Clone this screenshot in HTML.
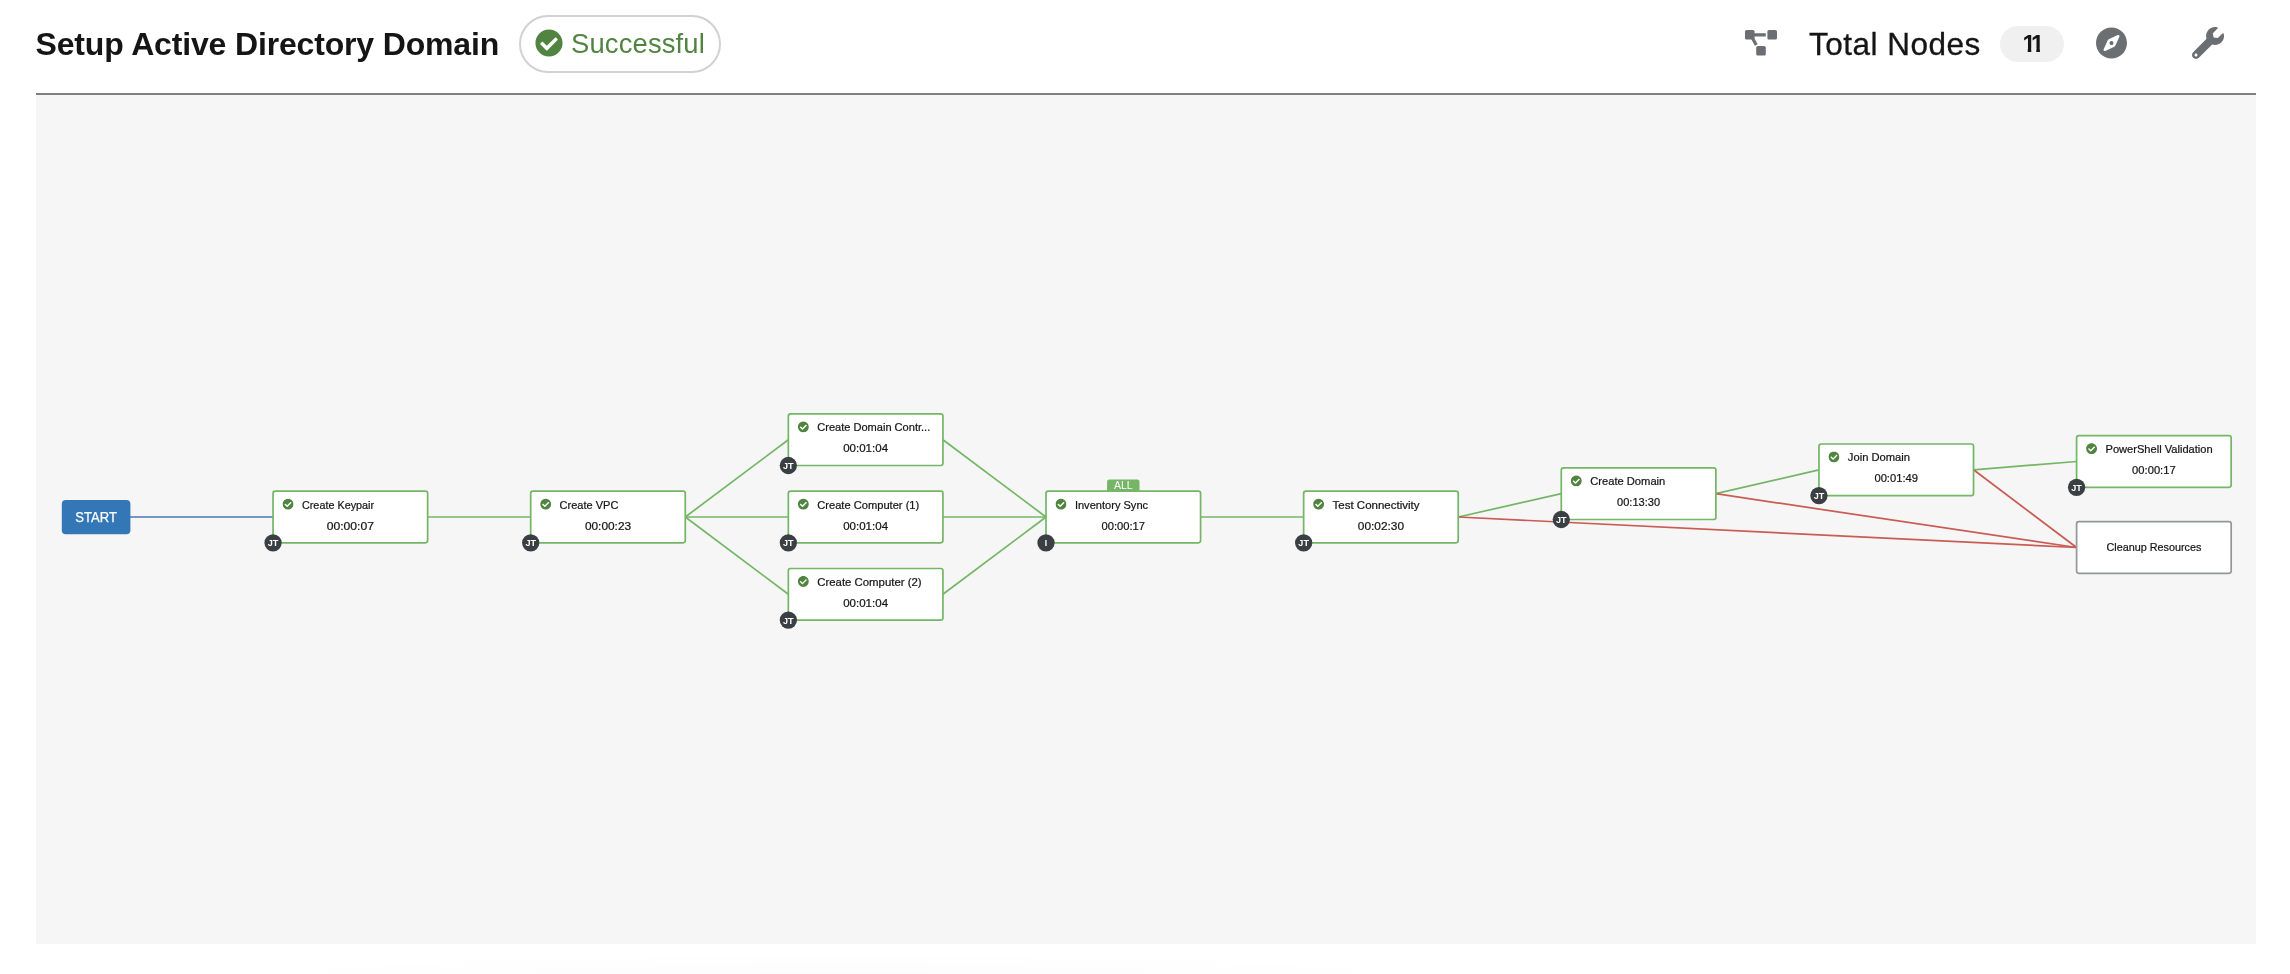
<!DOCTYPE html>
<html lang="en">
<head>
<meta charset="utf-8">
<title>Setup Active Directory Domain</title>
<style>
html,body{margin:0;padding:0;background:#fff;}
body{will-change:transform;width:2290px;height:974px;position:relative;overflow:hidden;font-family:"Liberation Sans",sans-serif;color:#151515;}
.toolbar{position:absolute;left:36px;top:0;width:2220px;height:93px;border-bottom:2px solid #808080;}
.title{position:absolute;left:-0.5px;top:20px;margin:0;font-size:32px;line-height:48px;font-weight:bold;color:#151515;white-space:nowrap;letter-spacing:-0.16px;}
.status{position:absolute;left:483px;top:15px;width:198px;height:54px;border:2px solid #d2d2d2;border-radius:29px;background:#fff;}
.status svg{position:absolute;left:14.2px;top:12px;width:28px;height:28px;}
.status span{position:absolute;left:50px;top:3px;font-size:27.4px;line-height:48px;color:#518440;white-space:nowrap;letter-spacing:0.15px;}
.tb-icon{position:absolute;fill:#6b6e72;}
.total{position:absolute;left:1773px;top:20px;-webkit-text-stroke:0.3px #151515;font-size:31.5px;line-height:48px;white-space:nowrap;color:#151515;letter-spacing:0.5px;}
.badge{position:absolute;left:1964px;top:26px;width:64px;height:36px;border-radius:18px;background:#f0f0f0;font-size:23.5px;line-height:36px;font-weight:bold;color:#151515;white-space:nowrap;}
.badge span{position:absolute;top:0;display:block;width:13.07px;height:36px;clip-path:polygon(0 0,100% 0,100% 22.5px,8.9px 22.5px,8.9px 100%,5.3px 100%,5.3px 22.5px,0 22.5px);}
.canvas{position:absolute;left:36px;top:95px;width:2220px;height:849px;background:#f6f6f6;}
.shade{position:absolute;left:180px;top:952px;width:1320px;height:22px;background:radial-gradient(ellipse at 50% 100%,rgba(0,0,0,0.012),rgba(0,0,0,0) 70%);}
.graph{position:absolute;left:0;top:0;font-family:"Liberation Sans",sans-serif;}
</style>
</head>
<body>
<div class="toolbar">
  <h1 class="title">Setup Active Directory Domain</h1>
  <div class="status"><svg viewBox="0 0 512 512"><path fill="#518440" d="M504 256c0 136.967-111.033 248-248 248S8 392.967 8 256 119.033 8 256 8s248 111.033 248 248zM227.314 387.314l184-184c6.248-6.248 6.248-16.379 0-22.627l-22.627-22.627c-6.248-6.249-16.379-6.249-22.628 0L216 308.118l-70.059-70.059c-6.248-6.248-16.379-6.248-22.628 0l-22.627 22.627c-6.248 6.248-6.248 16.379 0 22.627l104 104c6.249 6.249 16.379 6.249 22.628.001z"/></svg><span>Successful</span></div>
  <svg class="tb-icon" style="left:1709px;top:30px;width:32px;height:25.6px" viewBox="0 0 640 512"><path d="M384 320H256c-17.67 0-32 14.33-32 32v128c0 17.67 14.33 32 32 32h128c17.67 0 32-14.33 32-32V352c0-17.67-14.33-32-32-32zM192 32c0-17.67-14.33-32-32-32H32C14.33 0 0 14.33 0 32v128c0 17.67 14.33 32 32 32h95.72l73.16 128.04C211.98 300.98 232.4 288 256 288h.28L192 175.51V128h224V64H192V32zM608 0H480c-17.67 0-32 14.33-32 32v128c0 17.67 14.33 32 32 32h128c17.67 0 32-14.33 32-32V32c0-17.67-14.33-32-32-32z"/></svg>
  <div class="total">Total Nodes</div>
  <div class="badge"><span style="left:22.4px">1</span><span style="left:31px">1</span></div>
  <svg class="tb-icon" style="left:2060px;top:27px;width:31px;height:32px" viewBox="0 0 496 512"><path d="M225.38 233.37c-12.5 12.5-12.5 32.76 0 45.25 12.49 12.5 32.76 12.5 45.25 0 12.5-12.5 12.5-32.76 0-45.25-12.5-12.49-32.76-12.49-45.25 0zM248 8C111.03 8 0 119.03 0 256s111.03 248 248 248 248-111.03 248-248S384.97 8 248 8zm126.14 148.05L308.17 300.4a31.938 31.938 0 0 1-15.77 15.77l-144.34 65.97c-16.65 7.61-33.81-9.55-26.2-26.2l65.98-144.35a31.938 31.938 0 0 1 15.77-15.77l144.34-65.97c16.65-7.6 33.8 9.55 26.19 26.2z"/></svg>
  <svg class="tb-icon" style="left:2156px;top:27px;width:32px;height:32px" viewBox="0 0 512 512"><path d="M507.73 109.1c-2.24-9.03-13.54-12.09-20.12-5.51l-74.36 74.36-67.88-11.31-11.31-67.88 74.36-74.36c6.62-6.62 3.43-17.9-5.66-20.16-47.38-11.74-99.55.91-136.58 37.93-39.64 39.64-50.55 97.1-34.05 147.2L18.74 402.76c-24.99 24.99-24.99 65.51 0 90.5 24.99 24.99 65.51 24.99 90.5 0l213.21-213.21c50.12 16.71 107.47 5.68 147.37-34.22 37.07-37.07 49.7-89.32 37.91-136.73zM64 472c-13.25 0-24-10.75-24-24 0-13.26 10.75-24 24-24s24 10.74 24 24c0 13.25-10.75 24-24 24z"/></svg>
</div>
<div class="canvas">
<svg class="graph" width="2220" height="849" viewBox="36 95 2220 849">
<g class="links" fill="none" stroke-width="1.718">
<line x1="124.5" y1="517" x2="273.05" y2="517" stroke="#4678b2"/>
<line x1="427.63" y1="517.00" x2="530.70" y2="517.00" stroke="#74b666"/>
<line x1="685.28" y1="517.00" x2="788.35" y2="439.70" stroke="#74b666"/>
<line x1="685.28" y1="517.00" x2="788.35" y2="517.00" stroke="#74b666"/>
<line x1="685.28" y1="517.00" x2="788.35" y2="594.30" stroke="#74b666"/>
<line x1="942.93" y1="439.70" x2="1046.00" y2="517.00" stroke="#74b666"/>
<line x1="942.93" y1="517.00" x2="1046.00" y2="517.00" stroke="#74b666"/>
<line x1="942.93" y1="594.30" x2="1046.00" y2="517.00" stroke="#74b666"/>
<line x1="1200.58" y1="517.00" x2="1303.65" y2="517.00" stroke="#74b666"/>
<line x1="1458.23" y1="517.00" x2="1561.30" y2="493.70" stroke="#74b666"/>
<line x1="1458.23" y1="517.00" x2="2076.60" y2="547.50" stroke="#c95c54"/>
<line x1="1715.88" y1="493.70" x2="1818.95" y2="469.80" stroke="#74b666"/>
<line x1="1715.88" y1="493.70" x2="2076.60" y2="547.50" stroke="#c95c54"/>
<line x1="1973.53" y1="469.80" x2="2076.60" y2="461.50" stroke="#74b666"/>
<line x1="1973.53" y1="469.80" x2="2076.60" y2="547.50" stroke="#c95c54"/>
</g>
<g class="start"><rect x="61.8" y="499.9" width="68.6" height="34.4" rx="4" fill="#3477b7"/><text x="96.1" y="522" text-anchor="middle" font-size="14" fill="#fff" stroke="#fff" stroke-width="0.25" textLength="41.5" lengthAdjust="spacingAndGlyphs">START</text></g>
<g class="node" transform="translate(273.05,491.20)"><rect x="0" y="0" width="154.58" height="51.60" rx="2.20" fill="#fff" stroke="#74b666" stroke-width="1.718"/><svg x="9.4" y="7.4" width="11.2" height="11.2" viewBox="0 0 512 512"><path fill="#518440" d="M504 256c0 136.967-111.033 248-248 248S8 392.967 8 256 119.033 8 256 8s248 111.033 248 248zM227.314 387.314l184-184c6.248-6.248 6.248-16.379 0-22.627l-22.627-22.627c-6.248-6.249-16.379-6.249-22.628 0L216 308.118l-70.059-70.059c-6.248-6.248-16.379-6.248-22.628 0l-22.627 22.627c-6.248 6.248-6.248 16.379 0 22.627l104 104c6.249 6.249 16.379 6.249 22.628.001z"/></svg><text x="28.9" y="17.80" font-size="11.16" fill="#151515" stroke="#151515" stroke-width="0.22" textLength="72.2" lengthAdjust="spacingAndGlyphs">Create Keypair</text><text x="77.29" y="38.80" text-anchor="middle" font-size="11.16" fill="#151515" stroke="#151515" stroke-width="0.22" textLength="47.4" lengthAdjust="spacingAndGlyphs">00:00:07</text><circle cx="0" cy="51.60" r="8.65" fill="#3a3f43"/><text x="0" y="55.00" text-anchor="middle" font-size="8.5" font-weight="bold" fill="#fff" textLength="10.6" lengthAdjust="spacingAndGlyphs">JT</text></g>
<g class="node" transform="translate(530.70,491.20)"><rect x="0" y="0" width="154.58" height="51.60" rx="2.20" fill="#fff" stroke="#74b666" stroke-width="1.718"/><svg x="9.4" y="7.4" width="11.2" height="11.2" viewBox="0 0 512 512"><path fill="#518440" d="M504 256c0 136.967-111.033 248-248 248S8 392.967 8 256 119.033 8 256 8s248 111.033 248 248zM227.314 387.314l184-184c6.248-6.248 6.248-16.379 0-22.627l-22.627-22.627c-6.248-6.249-16.379-6.249-22.628 0L216 308.118l-70.059-70.059c-6.248-6.248-16.379-6.248-22.628 0l-22.627 22.627c-6.248 6.248-6.248 16.379 0 22.627l104 104c6.249 6.249 16.379 6.249 22.628.001z"/></svg><text x="28.9" y="17.80" font-size="11.16" fill="#151515" stroke="#151515" stroke-width="0.22" textLength="58.8" lengthAdjust="spacingAndGlyphs">Create VPC</text><text x="77.29" y="38.80" text-anchor="middle" font-size="11.16" fill="#151515" stroke="#151515" stroke-width="0.22" textLength="46.2" lengthAdjust="spacingAndGlyphs">00:00:23</text><circle cx="0" cy="51.60" r="8.65" fill="#3a3f43"/><text x="0" y="55.00" text-anchor="middle" font-size="8.5" font-weight="bold" fill="#fff" textLength="10.6" lengthAdjust="spacingAndGlyphs">JT</text></g>
<g class="node" transform="translate(788.35,413.90)"><rect x="0" y="0" width="154.58" height="51.60" rx="2.20" fill="#fff" stroke="#74b666" stroke-width="1.718"/><svg x="9.4" y="7.4" width="11.2" height="11.2" viewBox="0 0 512 512"><path fill="#518440" d="M504 256c0 136.967-111.033 248-248 248S8 392.967 8 256 119.033 8 256 8s248 111.033 248 248zM227.314 387.314l184-184c6.248-6.248 6.248-16.379 0-22.627l-22.627-22.627c-6.248-6.249-16.379-6.249-22.628 0L216 308.118l-70.059-70.059c-6.248-6.248-16.379-6.248-22.628 0l-22.627 22.627c-6.248 6.248-6.248 16.379 0 22.627l104 104c6.249 6.249 16.379 6.249 22.628.001z"/></svg><text x="28.9" y="17.10" font-size="11.16" fill="#151515" stroke="#151515" stroke-width="0.22" textLength="113.0" lengthAdjust="spacingAndGlyphs">Create Domain Contr...</text><text x="77.29" y="38.10" text-anchor="middle" font-size="11.16" fill="#151515" stroke="#151515" stroke-width="0.22" textLength="44.9" lengthAdjust="spacingAndGlyphs">00:01:04</text><circle cx="0" cy="51.60" r="8.65" fill="#3a3f43"/><text x="0" y="55.00" text-anchor="middle" font-size="8.5" font-weight="bold" fill="#fff" textLength="10.6" lengthAdjust="spacingAndGlyphs">JT</text></g>
<g class="node" transform="translate(788.35,491.20)"><rect x="0" y="0" width="154.58" height="51.60" rx="2.20" fill="#fff" stroke="#74b666" stroke-width="1.718"/><svg x="9.4" y="7.4" width="11.2" height="11.2" viewBox="0 0 512 512"><path fill="#518440" d="M504 256c0 136.967-111.033 248-248 248S8 392.967 8 256 119.033 8 256 8s248 111.033 248 248zM227.314 387.314l184-184c6.248-6.248 6.248-16.379 0-22.627l-22.627-22.627c-6.248-6.249-16.379-6.249-22.628 0L216 308.118l-70.059-70.059c-6.248-6.248-16.379-6.248-22.628 0l-22.627 22.627c-6.248 6.248-6.248 16.379 0 22.627l104 104c6.249 6.249 16.379 6.249 22.628.001z"/></svg><text x="28.9" y="17.80" font-size="11.16" fill="#151515" stroke="#151515" stroke-width="0.22" textLength="102.0" lengthAdjust="spacingAndGlyphs">Create Computer (1)</text><text x="77.29" y="38.80" text-anchor="middle" font-size="11.16" fill="#151515" stroke="#151515" stroke-width="0.22" textLength="44.9" lengthAdjust="spacingAndGlyphs">00:01:04</text><circle cx="0" cy="51.60" r="8.65" fill="#3a3f43"/><text x="0" y="55.00" text-anchor="middle" font-size="8.5" font-weight="bold" fill="#fff" textLength="10.6" lengthAdjust="spacingAndGlyphs">JT</text></g>
<g class="node" transform="translate(788.35,568.50)"><rect x="0" y="0" width="154.58" height="51.60" rx="2.20" fill="#fff" stroke="#74b666" stroke-width="1.718"/><svg x="9.4" y="7.4" width="11.2" height="11.2" viewBox="0 0 512 512"><path fill="#518440" d="M504 256c0 136.967-111.033 248-248 248S8 392.967 8 256 119.033 8 256 8s248 111.033 248 248zM227.314 387.314l184-184c6.248-6.248 6.248-16.379 0-22.627l-22.627-22.627c-6.248-6.249-16.379-6.249-22.628 0L216 308.118l-70.059-70.059c-6.248-6.248-16.379-6.248-22.628 0l-22.627 22.627c-6.248 6.248-6.248 16.379 0 22.627l104 104c6.249 6.249 16.379 6.249 22.628.001z"/></svg><text x="28.9" y="17.50" font-size="11.16" fill="#151515" stroke="#151515" stroke-width="0.22" textLength="104.4" lengthAdjust="spacingAndGlyphs">Create Computer (2)</text><text x="77.29" y="38.50" text-anchor="middle" font-size="11.16" fill="#151515" stroke="#151515" stroke-width="0.22" textLength="44.9" lengthAdjust="spacingAndGlyphs">00:01:04</text><circle cx="0" cy="51.60" r="8.65" fill="#3a3f43"/><text x="0" y="55.00" text-anchor="middle" font-size="8.5" font-weight="bold" fill="#fff" textLength="10.6" lengthAdjust="spacingAndGlyphs">JT</text></g>
<g class="node" transform="translate(1046.00,491.20)"><path d="M61.09 0.5V-9.4a2.4 2.4 0 0 1 2.4-2.4h27.60a2.4 2.4 0 0 1 2.4 2.4V0.5z" fill="#74b666"/><text x="77.29" y="-2" text-anchor="middle" font-size="10.3" fill="#fff" textLength="18.7" lengthAdjust="spacingAndGlyphs">ALL</text><rect x="0" y="0" width="154.58" height="51.60" rx="2.20" fill="#fff" stroke="#74b666" stroke-width="1.718"/><svg x="9.4" y="7.4" width="11.2" height="11.2" viewBox="0 0 512 512"><path fill="#518440" d="M504 256c0 136.967-111.033 248-248 248S8 392.967 8 256 119.033 8 256 8s248 111.033 248 248zM227.314 387.314l184-184c6.248-6.248 6.248-16.379 0-22.627l-22.627-22.627c-6.248-6.249-16.379-6.249-22.628 0L216 308.118l-70.059-70.059c-6.248-6.248-16.379-6.248-22.628 0l-22.627 22.627c-6.248 6.248-6.248 16.379 0 22.627l104 104c6.249 6.249 16.379 6.249 22.628.001z"/></svg><text x="28.9" y="17.80" font-size="11.16" fill="#151515" stroke="#151515" stroke-width="0.22" textLength="73.2" lengthAdjust="spacingAndGlyphs">Inventory Sync</text><text x="77.29" y="38.80" text-anchor="middle" font-size="11.16" fill="#151515" stroke="#151515" stroke-width="0.22" textLength="43.6" lengthAdjust="spacingAndGlyphs">00:00:17</text><circle cx="0" cy="51.60" r="8.65" fill="#3a3f43"/><text x="0" y="55.00" text-anchor="middle" font-size="8.5" font-weight="bold" fill="#fff">I</text></g>
<g class="node" transform="translate(1303.65,491.20)"><rect x="0" y="0" width="154.58" height="51.60" rx="2.20" fill="#fff" stroke="#74b666" stroke-width="1.718"/><svg x="9.4" y="7.4" width="11.2" height="11.2" viewBox="0 0 512 512"><path fill="#518440" d="M504 256c0 136.967-111.033 248-248 248S8 392.967 8 256 119.033 8 256 8s248 111.033 248 248zM227.314 387.314l184-184c6.248-6.248 6.248-16.379 0-22.627l-22.627-22.627c-6.248-6.249-16.379-6.249-22.628 0L216 308.118l-70.059-70.059c-6.248-6.248-16.379-6.248-22.628 0l-22.627 22.627c-6.248 6.248-6.248 16.379 0 22.627l104 104c6.249 6.249 16.379 6.249 22.628.001z"/></svg><text x="28.9" y="17.80" font-size="11.16" fill="#151515" stroke="#151515" stroke-width="0.22" textLength="87.0" lengthAdjust="spacingAndGlyphs">Test Connectivity</text><text x="77.29" y="38.80" text-anchor="middle" font-size="11.16" fill="#151515" stroke="#151515" stroke-width="0.22" textLength="46.3" lengthAdjust="spacingAndGlyphs">00:02:30</text><circle cx="0" cy="51.60" r="8.65" fill="#3a3f43"/><text x="0" y="55.00" text-anchor="middle" font-size="8.5" font-weight="bold" fill="#fff" textLength="10.6" lengthAdjust="spacingAndGlyphs">JT</text></g>
<g class="node" transform="translate(1561.30,467.90)"><rect x="0" y="0" width="154.58" height="51.60" rx="2.20" fill="#fff" stroke="#74b666" stroke-width="1.718"/><svg x="9.4" y="7.4" width="11.2" height="11.2" viewBox="0 0 512 512"><path fill="#518440" d="M504 256c0 136.967-111.033 248-248 248S8 392.967 8 256 119.033 8 256 8s248 111.033 248 248zM227.314 387.314l184-184c6.248-6.248 6.248-16.379 0-22.627l-22.627-22.627c-6.248-6.249-16.379-6.249-22.628 0L216 308.118l-70.059-70.059c-6.248-6.248-16.379-6.248-22.628 0l-22.627 22.627c-6.248 6.248-6.248 16.379 0 22.627l104 104c6.249 6.249 16.379 6.249 22.628.001z"/></svg><text x="28.9" y="17.10" font-size="11.16" fill="#151515" stroke="#151515" stroke-width="0.22" textLength="75.1" lengthAdjust="spacingAndGlyphs">Create Domain</text><text x="77.29" y="38.10" text-anchor="middle" font-size="11.16" fill="#151515" stroke="#151515" stroke-width="0.22" textLength="43.1" lengthAdjust="spacingAndGlyphs">00:13:30</text><circle cx="0" cy="51.60" r="8.65" fill="#3a3f43"/><text x="0" y="55.00" text-anchor="middle" font-size="8.5" font-weight="bold" fill="#fff" textLength="10.6" lengthAdjust="spacingAndGlyphs">JT</text></g>
<g class="node" transform="translate(1818.95,444.00)"><rect x="0" y="0" width="154.58" height="51.60" rx="2.20" fill="#fff" stroke="#74b666" stroke-width="1.718"/><svg x="9.4" y="7.4" width="11.2" height="11.2" viewBox="0 0 512 512"><path fill="#518440" d="M504 256c0 136.967-111.033 248-248 248S8 392.967 8 256 119.033 8 256 8s248 111.033 248 248zM227.314 387.314l184-184c6.248-6.248 6.248-16.379 0-22.627l-22.627-22.627c-6.248-6.249-16.379-6.249-22.628 0L216 308.118l-70.059-70.059c-6.248-6.248-16.379-6.248-22.628 0l-22.627 22.627c-6.248 6.248-6.248 16.379 0 22.627l104 104c6.249 6.249 16.379 6.249 22.628.001z"/></svg><text x="28.9" y="17.00" font-size="11.16" fill="#151515" stroke="#151515" stroke-width="0.22" textLength="62.2" lengthAdjust="spacingAndGlyphs">Join Domain</text><text x="77.29" y="38.00" text-anchor="middle" font-size="11.16" fill="#151515" stroke="#151515" stroke-width="0.22" textLength="43.7" lengthAdjust="spacingAndGlyphs">00:01:49</text><circle cx="0" cy="51.60" r="8.65" fill="#3a3f43"/><text x="0" y="55.00" text-anchor="middle" font-size="8.5" font-weight="bold" fill="#fff" textLength="10.6" lengthAdjust="spacingAndGlyphs">JT</text></g>
<g class="node" transform="translate(2076.60,435.70)"><rect x="0" y="0" width="154.58" height="51.60" rx="2.20" fill="#fff" stroke="#74b666" stroke-width="1.718"/><svg x="9.4" y="7.4" width="11.2" height="11.2" viewBox="0 0 512 512"><path fill="#518440" d="M504 256c0 136.967-111.033 248-248 248S8 392.967 8 256 119.033 8 256 8s248 111.033 248 248zM227.314 387.314l184-184c6.248-6.248 6.248-16.379 0-22.627l-22.627-22.627c-6.248-6.249-16.379-6.249-22.628 0L216 308.118l-70.059-70.059c-6.248-6.248-16.379-6.248-22.628 0l-22.627 22.627c-6.248 6.248-6.248 16.379 0 22.627l104 104c6.249 6.249 16.379 6.249 22.628.001z"/></svg><text x="28.9" y="17.30" font-size="11.16" fill="#151515" stroke="#151515" stroke-width="0.22" textLength="107.2" lengthAdjust="spacingAndGlyphs">PowerShell Validation</text><text x="77.29" y="38.30" text-anchor="middle" font-size="11.16" fill="#151515" stroke="#151515" stroke-width="0.22" textLength="43.6" lengthAdjust="spacingAndGlyphs">00:00:17</text><circle cx="0" cy="51.60" r="8.65" fill="#3a3f43"/><text x="0" y="55.00" text-anchor="middle" font-size="8.5" font-weight="bold" fill="#fff" textLength="10.6" lengthAdjust="spacingAndGlyphs">JT</text></g>
<g class="node" transform="translate(2076.60,521.70)"><rect x="0" y="0" width="154.58" height="51.60" rx="2.20" fill="#fff" stroke="#94969a" stroke-width="1.718"/><text x="77.29" y="29.30" text-anchor="middle" font-size="11.16" fill="#151515" stroke="#151515" stroke-width="0.22" textLength="94.9" lengthAdjust="spacingAndGlyphs">Cleanup Resources</text></g>
</svg>
</div>
<div class="shade"></div>
</body>
</html>
